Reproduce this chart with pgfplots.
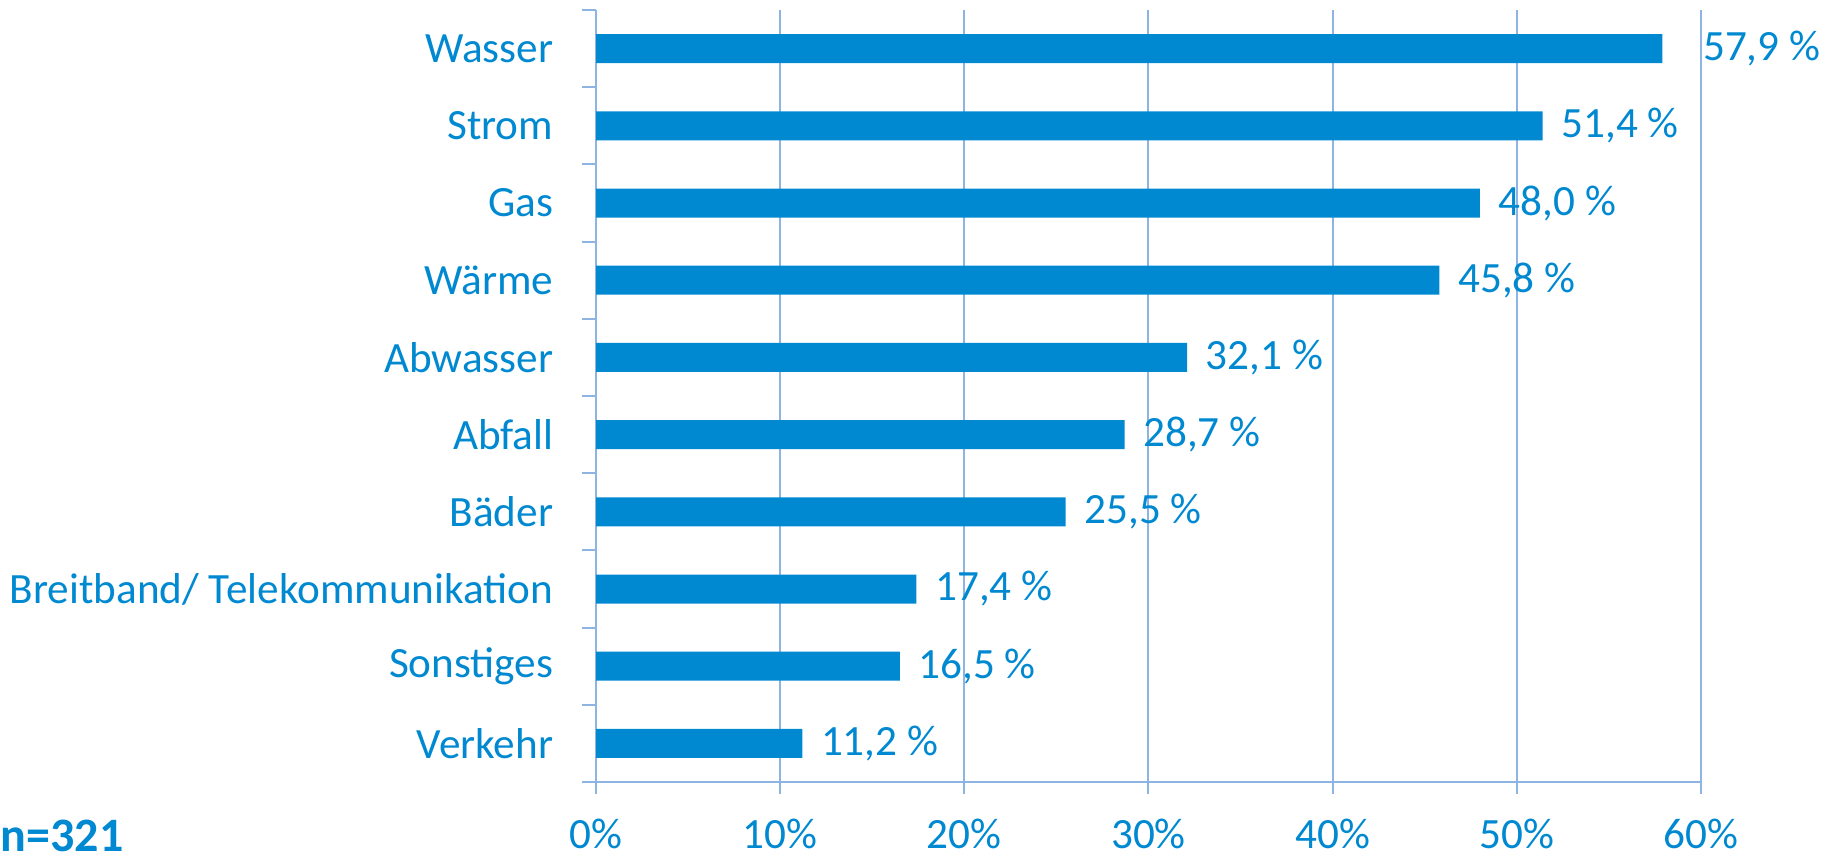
\documentclass[border=0pt]{standalone}
\usepackage{pgfplots}
\pgfplotsset{compat=1.18}
\usepackage{pgfplotstable}
\usepackage{fontspec}
\setmainfont{Carlito}
\definecolor{barblue}{RGB}{0,137,209}
\definecolor{gridblue}{RGB}{142,180,227}

% idx = category (0 = top), val = share in %, dx = label gap in pt
\pgfplotstableread{
idx val  dx
0   57.9 10
1   51.4 4.5
2   48.0 4.5
3   45.8 4.5
4   32.1 4.5
5   28.7 4.5
6   25.5 4.5
7   17.4 4.5
8   16.5 4.5
9   11.2 4.5
}\sharedata

\begin{document}
\begin{tikzpicture}[x=1pt,y=1pt]
\useasboundingbox (0,0) rectangle (457.25,214.25);
\begin{axis}[
    at={(149pt,18.75pt)}, anchor=south west,
    width=276.25pt, height=193pt, scale only axis,
    xbar, bar width=7.25pt,
    xmin=0, xmax=60, ymin=-0.5, ymax=9.5, y dir=reverse,
    clip=false,
    xtick={0,10,...,60},
    xticklabel={\pgfmathprintnumber{\tick}\%},
    ytick={0,...,9},
    yticklabels={Wasser,Strom,Gas,Wärme,Abwasser,Abfall,Bäder,Breitband/ Telekommunikation,Sonstiges,Verkehr},
    minor ytick={-0.5,0.5,...,9.5},
    xmajorgrids,
    major grid style={gridblue, line width=0.5pt},
    axis x line*=bottom, axis y line*=left,
    axis line style={gridblue, line width=0.5pt},
    tick align=outside,
    major tick length=3pt, minor tick length=3.5pt,
    major tick style={gridblue, line width=0.5pt},
    minor tick style={gridblue, line width=0.5pt},
    major y tick style={draw=none},
    tick label style={font=\fontsize{10.8}{13}\selectfont, text=barblue},
    /pgf/number format/assume math mode=true,
    xticklabel style={inner sep=0pt, yshift=-6pt},
    yticklabel style={inner sep=0pt, xshift=-7.5pt},
    visualization depends on={\thisrow{dx} \as \dx},
    nodes near coords={\pgfmathprintnumber[fixed,fixed zerofill,precision=1,use comma]{\pgfplotspointmeta}\ \%},
    every node near coord/.append style={anchor=west, inner sep=0pt, xshift=\dx pt,
        font=\fontsize{10.8}{13}\selectfont, text=barblue},
]
\addplot[fill=barblue, draw=none] table[x=val, y=idx] {\sharedata};
\end{axis}
\node[anchor=base west, inner sep=0pt, font=\fontsize{12}{14}\selectfont\bfseries, text=barblue] at (0,1.5) {n=321};
\end{tikzpicture}
\end{document}
